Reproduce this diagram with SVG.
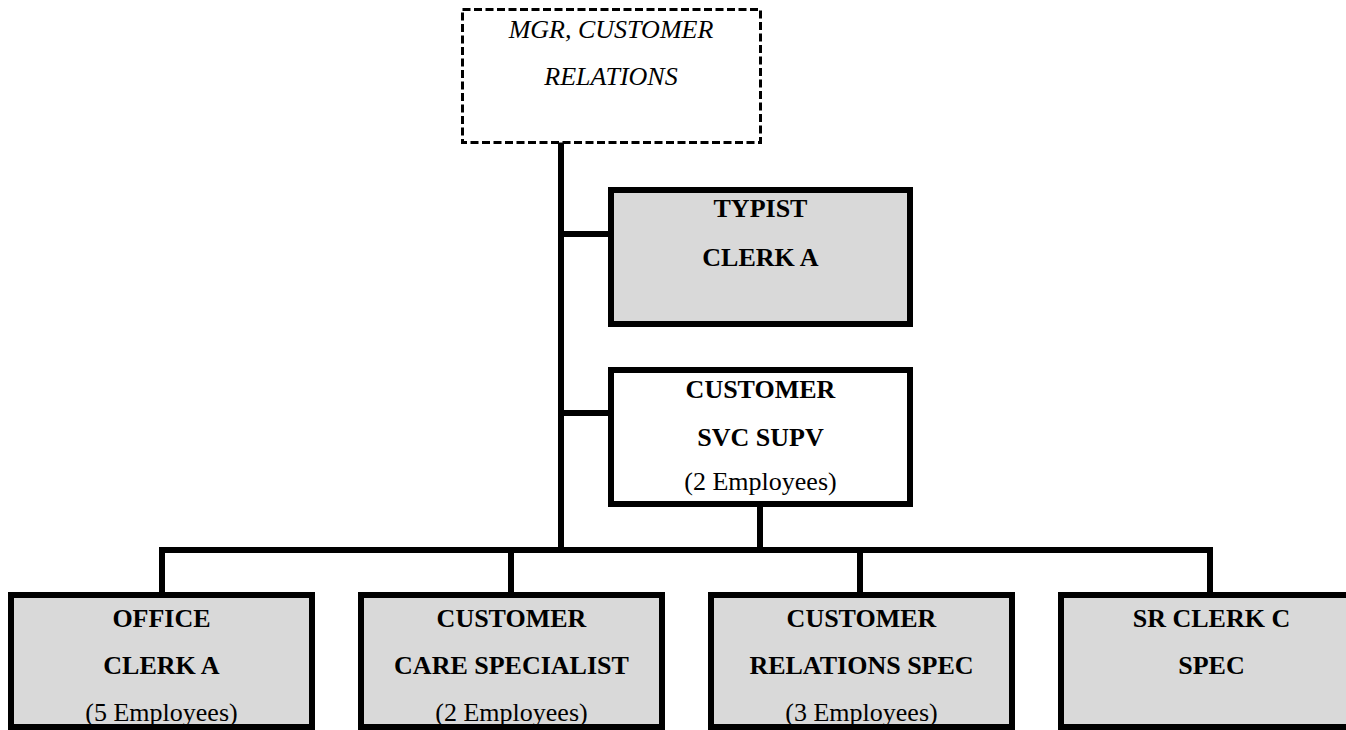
<svg xmlns="http://www.w3.org/2000/svg" width="1346" height="730" viewBox="0 0 1346 730">
  <style>
    .box { stroke: #000; stroke-width: 6; }
    .shaded { fill: #d9d9d9; }
    .plain { fill: #fff; }
    .dashed { fill: #fff; stroke: #000; stroke-width: 3; stroke-dasharray: 8 3.5; }
    .wire { stroke: #000; stroke-width: 6; fill: none; stroke-linecap: square; }
    text { font-family: "Liberation Serif", "Times New Roman", serif; font-size: 26px; fill: #000; text-anchor: middle; }
    .title { font-weight: bold; }
    .mgr { font-style: italic; }
  </style>

  <!-- connectors -->
  <g id="connectors">
    <line class="wire" x1="561" y1="145" x2="561" y2="550"/>
    <line class="wire" x1="561" y1="234" x2="608" y2="234"/>
    <line class="wire" x1="561" y1="413" x2="608" y2="413"/>
    <line class="wire" x1="760" y1="507" x2="760" y2="550"/>
    <line class="wire" x1="162" y1="550" x2="1210" y2="550"/>
    <line class="wire" x1="162" y1="550" x2="162" y2="592"/>
    <line class="wire" x1="511" y1="550" x2="511" y2="592"/>
    <line class="wire" x1="860" y1="550" x2="860" y2="592"/>
    <line class="wire" x1="1210" y1="550" x2="1210" y2="592"/>
  </g>

  <!-- manager (vacant, dashed) -->
  <g id="mgr-customer-relations">
    <rect class="dashed" x="462.5" y="9.5" width="298" height="133"/>
    <text class="mgr" x="611" y="38">MGR, CUSTOMER</text>
    <text class="mgr" x="611" y="85">RELATIONS</text>
  </g>

  <g id="typist-clerk-a">
    <rect class="box shaded" x="611" y="190" width="299" height="134"/>
    <text class="title" x="760.5" y="217">TYPIST</text>
    <text class="title" x="760.5" y="266">CLERK A</text>
  </g>

  <g id="customer-svc-supv">
    <rect class="box plain" x="611" y="370" width="299" height="134"/>
    <text class="title" x="760.5" y="398">CUSTOMER</text>
    <text class="title" x="760.5" y="446">SVC SUPV</text>
    <text x="760.5" y="490">(2 Employees)</text>
  </g>

  <g id="office-clerk-a">
    <rect class="box shaded" x="11" y="595" width="301" height="132"/>
    <text class="title" x="161.5" y="627">OFFICE</text>
    <text class="title" x="161.5" y="674">CLERK A</text>
    <text x="161.5" y="721">(5 Employees)</text>
  </g>

  <g id="customer-care-specialist">
    <rect class="box shaded" x="361" y="595" width="301" height="132"/>
    <text class="title" x="511.5" y="627">CUSTOMER</text>
    <text class="title" x="511.5" y="674">CARE SPECIALIST</text>
    <text x="511.5" y="721">(2 Employees)</text>
  </g>

  <g id="customer-relations-spec">
    <rect class="box shaded" x="711" y="595" width="301" height="132"/>
    <text class="title" x="861.5" y="627">CUSTOMER</text>
    <text class="title" x="861.5" y="674">RELATIONS SPEC</text>
    <text x="861.5" y="721">(3 Employees)</text>
  </g>

  <g id="sr-clerk-c-spec">
    <rect class="box shaded" x="1061" y="595" width="301" height="132"/>
    <text class="title" x="1211.5" y="627">SR CLERK C</text>
    <text class="title" x="1211.5" y="674">SPEC</text>
  </g>
</svg>
